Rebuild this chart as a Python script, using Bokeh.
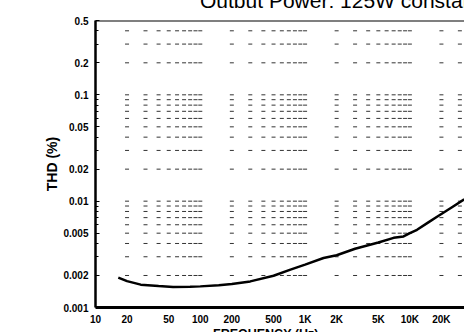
from itertools import product

from bokeh.plotting import figure
from bokeh.layouts import column
from bokeh.models import Range1d, FixedTicker, Span, Div
from bokeh.embed import file_html
from bokeh.resources import INLINE

# ---- data ----
freq_hz = [16.5, 20, 27, 40, 55, 80, 100, 150, 200, 300, 500, 725, 1000,
           1500, 2000, 3000, 5000, 7000, 8700, 10000, 11700, 15000, 18000,
           25000, 33000]
thd_pct = [0.00191, 0.00177, 0.00164, 0.00159, 0.00156, 0.00157, 0.00158,
           0.00162, 0.00166, 0.00176, 0.00199, 0.00227, 0.00253, 0.00292,
           0.00310, 0.00357, 0.00408, 0.00452, 0.00466, 0.00500, 0.00538,
           0.00632, 0.00710, 0.00873, 0.01040]

x_ticks = [10, 20, 50, 100, 200, 500, 1000, 2000, 5000, 10000, 20000]
x_tick_labels = ["10", "20", "50", "100", "200", "500", "1K", "2K", "5K",
                 "10K", "20K"]
y_ticks = [0.001, 0.002, 0.005, 0.01, 0.02, 0.05, 0.1, 0.2, 0.5]
y_tick_labels = ["0.001", "0.002", "0.005", "0.01", "0.02", "0.05", "0.1",
                 "0.2", "0.5"]
y_minor_ticks = [0.003, 0.004, 0.006, 0.007, 0.008, 0.009,
                 0.03, 0.04, 0.06, 0.07, 0.08, 0.09, 0.3, 0.4]

grid_x = [20, 30, 40, 50, 60, 70, 80, 90, 100,
          200, 300, 400, 500, 600, 700, 800, 900, 1000,
          2000, 3000, 4000, 5000, 6000, 7000, 8000, 9000, 10000,
          20000, 30000]
grid_y = [0.002, 0.003, 0.004, 0.005, 0.006, 0.007, 0.008, 0.009, 0.01,
          0.02, 0.03, 0.04, 0.05, 0.06, 0.07, 0.08, 0.09, 0.1,
          0.2, 0.3, 0.4]

title_text = "Output Power: 125W constant"
x_label_text = "FREQUENCY (Hz)"
y_label_text = "THD (%)"

X_START, X_END = 10, 33200
Y_START, Y_END = 0.001, 0.5
FONT = "Liberation Sans"

# ---- title strip (the scan cuts the title at the top edge) ----
title_div = Div(
    text=('<div style="position:relative; top:-10px; left:200px; '
          f'font-family:\'{FONT}\'; font-size:21px; line-height:21px; '
          f'white-space:nowrap; color:black;">{title_text}</div>'),
    width=464, height=8, margin=0,
    styles={"overflow": "hidden"})

# ---- plot ----
p = figure(width=464, height=319, title=None,
           x_axis_type="log", y_axis_type="log",
           x_range=Range1d(X_START, X_END), y_range=Range1d(Y_START, Y_END),
           output_backend="svg", toolbar_location=None,
           min_border_left=95, min_border_right=0,
           min_border_top=12, min_border_bottom=19, margin=0)
p.outline_line_color = None
p.background_fill_color = "white"
p.border_fill_color = "white"
p.xgrid.visible = False
p.ygrid.visible = False

# y axis
ya = p.yaxis[0]
ya.ticker = FixedTicker(ticks=y_ticks, minor_ticks=y_minor_ticks)
ya.major_label_overrides = dict(zip(y_ticks, y_tick_labels))
ya.axis_line_width = 2.5
ya.axis_line_color = "black"
ya.major_tick_in = 4
ya.major_tick_out = 0
ya.minor_tick_in = 3
ya.minor_tick_out = 0
ya.major_tick_line_color = "black"
ya.minor_tick_line_color = "black"
ya.major_label_text_font = FONT
ya.major_label_text_font_size = "10px"
ya.major_label_text_font_style = "bold"
ya.major_label_text_color = "black"
ya.major_label_standoff = 7
ya.axis_label = y_label_text
ya.axis_label_text_font = FONT
ya.axis_label_text_font_size = "14px"
ya.axis_label_text_font_style = "bold"
ya.axis_label_text_color = "black"
ya.axis_label_standoff = 0

# x axis
xa = p.xaxis[0]
xa.ticker = FixedTicker(ticks=x_ticks, minor_ticks=[])
xa.major_label_overrides = dict(zip(x_ticks, x_tick_labels))
xa.axis_line_width = 3
xa.axis_line_color = "black"
xa.major_tick_in = 0
xa.major_tick_out = 0
xa.minor_tick_in = 0
xa.minor_tick_out = 0
xa.major_label_text_font = FONT
xa.major_label_text_font_size = "10px"
xa.major_label_text_font_style = "bold"
xa.major_label_text_color = "black"
xa.major_label_standoff = 6

# top frame line
p.add_layout(Span(location=Y_END, dimension="width", line_color="black",
                  line_width=2))

# grid dots at intersections (scanned dotted grid)
gx, gy = zip(*product(grid_x, grid_y))
p.scatter(list(gx), list(gy), marker="dash", size=4,
          line_color="#333333", line_width=1)

# THD curve
p.line(freq_hz, thd_pct, line_color="black", line_width=2.5)

# ---- x-axis title strip (cut by the bottom edge in the scan) ----
xlabel_div = Div(
    text=('<div style="position:relative; top:-1.5px; left:213px; '
          f'font-family:\'{FONT}\'; font-size:12.5px; font-weight:bold; '
          f'line-height:12.5px; white-space:nowrap; color:black;">'
          f'{x_label_text}</div>'),
    width=464, height=5, margin=0,
    styles={"overflow": "hidden"})

layout = column(title_div, p, xlabel_div, spacing=0, margin=0)

open("out.html", "w").write(file_html(layout, INLINE))
